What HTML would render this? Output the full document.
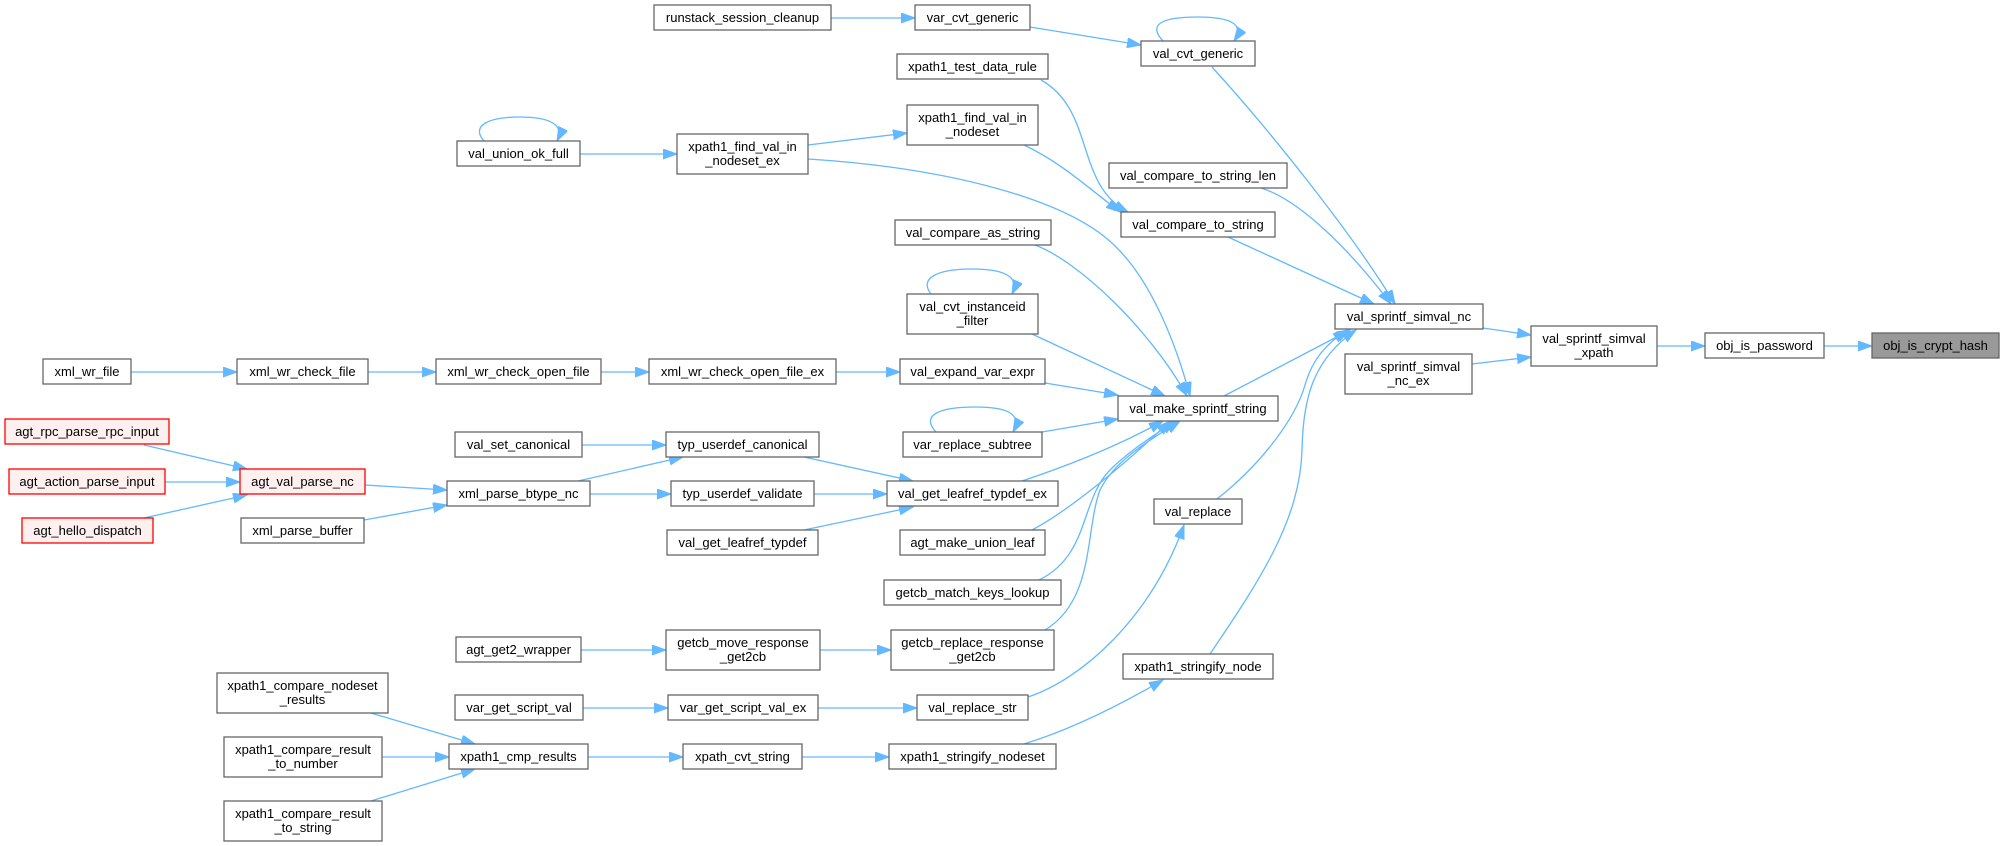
<!DOCTYPE html>
<html>
<head>
<meta charset="utf-8">
<style>
html,body{margin:0;padding:0;background:#fff;}
svg{display:block;}
text{font-family:"Liberation Sans",Arial,sans-serif;font-size:13px;fill:#000;text-anchor:middle;}
.n{fill:#fff;stroke:#666;stroke-width:1.3;}
.r{fill:#fff0f0;stroke:#ff0000;stroke-width:1.3;}
.h{fill:#999;stroke:#666;stroke-width:1.3;}
.e{fill:none;stroke:#63b8ff;stroke-width:1.3;marker-end:url(#a);}
</style>
</head>
<body>
<svg width="2004" height="846" viewBox="0 0 2004 846" xmlns="http://www.w3.org/2000/svg">
<defs>
<marker id="a" markerWidth="16" markerHeight="12" refX="14" refY="5" orient="auto" markerUnits="userSpaceOnUse">
<path d="M0,0 L14,5 L0,10 z" fill="#63b8ff" stroke="#63b8ff" stroke-width="1"/>
</marker>
</defs>

<!-- edges -->
<path class="e" d="M831,18 L915,18"/>
<path class="e" d="M1030,27 L1141,45"/>
<path class="e" d="M1163,41 C1148,25 1160,17 1198,17 C1232,17 1245,25 1234,41"/>
<path class="e" d="M1212,67 C1265,125 1350,230 1395,304"/>
<path class="e" d="M1041,80 C1095,110 1075,185 1128,212"/>
<path class="e" d="M1024,145 C1060,162 1085,185 1120,212"/>
<path class="e" d="M808,145 L907,133"/>
<path class="e" d="M808,159 C950,168 1070,200 1116,247 C1150,280 1175,340 1190,396"/>
<path class="e" d="M580,154 L677,154"/>
<path class="e" d="M484,141 C470,125 490,117 520,117 C550,117 565,125 557,141"/>
<path class="e" d="M1261,188 C1300,200 1350,250 1391,304"/>
<path class="e" d="M1228,237 L1374,304"/>
<path class="e" d="M1035,245 C1080,262 1150,330 1187,396"/>
<path class="e" d="M931,294 C918,277 940,269 972,269 C1005,269 1020,277 1012,294"/>
<path class="e" d="M1032,334 L1165,396"/>
<path class="e" d="M836,372 L900,372"/>
<path class="e" d="M1045,383 L1118,395"/>
<path class="e" d="M1042,432 L1118,419"/>
<path class="e" d="M936,432 C920,415 940,407 975,407 C1010,407 1022,415 1013,432"/>
<path class="e" d="M804,457 L913,481"/>
<path class="e" d="M582,445 L666,445"/>
<path class="e" d="M578,481 L683,457"/>
<path class="e" d="M590,494 L671,494"/>
<path class="e" d="M814,494 L887,494"/>
<path class="e" d="M804,530 L913,507"/>
<path class="e" d="M1022,481 C1070,465 1120,445 1163,421"/>
<path class="e" d="M1032,530 C1070,510 1130,460 1170,421"/>
<path class="e" d="M1039,580 C1090,555 1080,500 1110,470 C1130,450 1155,435 1175,421"/>
<path class="e" d="M1045,630 C1095,600 1085,530 1100,490 C1115,460 1150,440 1180,421"/>
<path class="e" d="M581,650 L666,650"/>
<path class="e" d="M820,650 L891,650"/>
<path class="e" d="M583,708 L668,708"/>
<path class="e" d="M818,708 L917,708"/>
<path class="e" d="M1028,697 C1080,680 1150,620 1184,525"/>
<path class="e" d="M1024,744 C1070,730 1120,705 1163,680"/>
<path class="e" d="M802,757 L889,757"/>
<path class="e" d="M588,757 L683,757"/>
<path class="e" d="M371,713 L475,744"/>
<path class="e" d="M382,757 L449,757"/>
<path class="e" d="M371,801 L475,769"/>
<path class="e" d="M144,445 L247,469"/>
<path class="e" d="M165,482 L240,482"/>
<path class="e" d="M144,518 L247,495"/>
<path class="e" d="M365,485 L447,490"/>
<path class="e" d="M364,520 L447,505"/>
<path class="e" d="M131,372 L237,372"/>
<path class="e" d="M368,372 L436,372"/>
<path class="e" d="M601,372 L649,372"/>
<path class="e" d="M1217,499 C1260,465 1295,420 1305,385 C1312,360 1325,345 1347,330"/>
<path class="e" d="M1210,654 C1260,580 1300,520 1302,450 C1303,400 1312,360 1356,330"/>
<path class="e" d="M1224,396 L1350,330"/>
<path class="e" d="M1483,328 L1531,335"/>
<path class="e" d="M1472,364 L1531,357"/>
<path class="e" d="M1657,346 L1705,346"/>
<path class="e" d="M1824,346 L1872,346"/>

<!-- nodes -->
<rect class="n" x="654" y="5" width="177" height="25"/><text x="742.5" y="22">runstack_session_cleanup</text>
<rect class="n" x="915" y="5" width="115" height="25"/><text x="972.5" y="22">var_cvt_generic</text>
<rect class="n" x="1141" y="41" width="114" height="25"/><text x="1198" y="58">val_cvt_generic</text>
<rect class="n" x="897" y="54" width="151" height="25"/><text x="972.5" y="71">xpath1_test_data_rule</text>
<rect class="n" x="907" y="105" width="131" height="40"/><text x="972.5" y="122">xpath1_find_val_in</text><text x="972.5" y="136">_nodeset</text>
<rect class="n" x="677" y="134" width="131" height="40"/><text x="742.5" y="151">xpath1_find_val_in</text><text x="742.5" y="165">_nodeset_ex</text>
<rect class="n" x="457" y="141" width="123" height="25"/><text x="518.5" y="158">val_union_ok_full</text>
<rect class="n" x="1109" y="163" width="178" height="25"/><text x="1198" y="180">val_compare_to_string_len</text>
<rect class="n" x="1121" y="212" width="154" height="25"/><text x="1198" y="229">val_compare_to_string</text>
<rect class="n" x="895" y="220" width="156" height="25"/><text x="973" y="237">val_compare_as_string</text>
<rect class="n" x="907" y="294" width="131" height="40"/><text x="972.5" y="311">val_cvt_instanceid</text><text x="972.5" y="325">_filter</text>
<rect class="n" x="1335" y="304" width="148" height="25"/><text x="1409" y="321">val_sprintf_simval_nc</text>
<rect class="n" x="1531" y="326" width="126" height="40"/><text x="1594" y="343">val_sprintf_simval</text><text x="1594" y="357">_xpath</text>
<rect class="n" x="1345" y="354" width="127" height="40"/><text x="1408.5" y="371">val_sprintf_simval</text><text x="1408.5" y="385">_nc_ex</text>
<rect class="n" x="1705" y="333" width="119" height="25"/><text x="1764.5" y="350">obj_is_password</text>
<rect class="h" x="1872" y="333" width="127" height="25"/><text x="1935.5" y="350">obj_is_crypt_hash</text>
<rect class="n" x="43" y="359" width="88" height="25"/><text x="87" y="376">xml_wr_file</text>
<rect class="n" x="237" y="359" width="131" height="25"/><text x="302.5" y="376">xml_wr_check_file</text>
<rect class="n" x="436" y="359" width="165" height="25"/><text x="518.5" y="376">xml_wr_check_open_file</text>
<rect class="n" x="649" y="359" width="187" height="25"/><text x="742.5" y="376">xml_wr_check_open_file_ex</text>
<rect class="n" x="900" y="359" width="145" height="25"/><text x="972.5" y="376">val_expand_var_expr</text>
<rect class="n" x="1118" y="396" width="160" height="25"/><text x="1198" y="413">val_make_sprintf_string</text>
<rect class="r" x="5" y="419" width="164" height="25"/><text x="87" y="436">agt_rpc_parse_rpc_input</text>
<rect class="n" x="455" y="432" width="127" height="25"/><text x="518.5" y="449">val_set_canonical</text>
<rect class="n" x="666" y="432" width="153" height="25"/><text x="742.5" y="449">typ_userdef_canonical</text>
<rect class="n" x="903" y="432" width="139" height="25"/><text x="972.5" y="449">var_replace_subtree</text>
<rect class="r" x="9" y="469" width="156" height="25"/><text x="87" y="486">agt_action_parse_input</text>
<rect class="r" x="240" y="469" width="125" height="25"/><text x="302.5" y="486">agt_val_parse_nc</text>
<rect class="n" x="447" y="481" width="143" height="25"/><text x="518.5" y="498">xml_parse_btype_nc</text>
<rect class="n" x="671" y="481" width="143" height="25"/><text x="742.5" y="498">typ_userdef_validate</text>
<rect class="n" x="887" y="481" width="171" height="25"/><text x="972.5" y="498">val_get_leafref_typdef_ex</text>
<rect class="n" x="1154" y="499" width="88" height="25"/><text x="1198" y="516">val_replace</text>
<rect class="r" x="22" y="518" width="131" height="25"/><text x="87.5" y="535">agt_hello_dispatch</text>
<rect class="n" x="241" y="518" width="123" height="25"/><text x="302.5" y="535">xml_parse_buffer</text>
<rect class="n" x="667" y="530" width="151" height="25"/><text x="742.5" y="547">val_get_leafref_typdef</text>
<rect class="n" x="900" y="530" width="145" height="25"/><text x="972.5" y="547">agt_make_union_leaf</text>
<rect class="n" x="884" y="580" width="177" height="25"/><text x="972.5" y="597">getcb_match_keys_lookup</text>
<rect class="n" x="456" y="637" width="125" height="25"/><text x="518.5" y="654">agt_get2_wrapper</text>
<rect class="n" x="666" y="630" width="154" height="40"/><text x="743" y="647">getcb_move_response</text><text x="743" y="661">_get2cb</text>
<rect class="n" x="891" y="630" width="163" height="40"/><text x="972.5" y="647">getcb_replace_response</text><text x="972.5" y="661">_get2cb</text>
<rect class="n" x="1123" y="654" width="150" height="25"/><text x="1198" y="671">xpath1_stringify_node</text>
<rect class="n" x="217" y="673" width="171" height="40"/><text x="302.5" y="690">xpath1_compare_nodeset</text><text x="302.5" y="704">_results</text>
<rect class="n" x="455" y="695" width="128" height="25"/><text x="519" y="712">var_get_script_val</text>
<rect class="n" x="668" y="695" width="150" height="25"/><text x="743" y="712">var_get_script_val_ex</text>
<rect class="n" x="917" y="695" width="111" height="25"/><text x="972.5" y="712">val_replace_str</text>
<rect class="n" x="224" y="737" width="158" height="40"/><text x="303" y="754">xpath1_compare_result</text><text x="303" y="768">_to_number</text>
<rect class="n" x="449" y="744" width="139" height="25"/><text x="518.5" y="761">xpath1_cmp_results</text>
<rect class="n" x="683" y="744" width="119" height="25"/><text x="742.5" y="761">xpath_cvt_string</text>
<rect class="n" x="889" y="744" width="167" height="25"/><text x="972.5" y="761">xpath1_stringify_nodeset</text>
<rect class="n" x="224" y="801" width="158" height="40"/><text x="303" y="818">xpath1_compare_result</text><text x="303" y="832">_to_string</text>
</svg>
</body>
</html>
